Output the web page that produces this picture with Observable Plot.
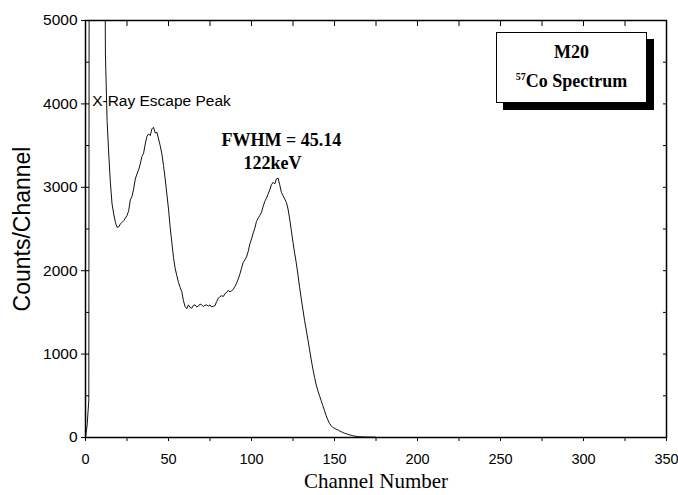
<!DOCTYPE html>
<html>
<head>
<meta charset="utf-8">
<script src="https://cdn.jsdelivr.net/npm/d3@7"></script>
<script src="https://cdn.jsdelivr.net/npm/@observablehq/plot@0.6"></script>
<style>
  html, body { margin: 0; padding: 0; background: #fff; }
  #wrap { position: relative; width: 678px; height: 495px; }
  #legend {
    position: absolute; left: 496px; top: 32px; width: 149px; height: 69px;
    border: 1px solid #000; background: #fff; box-shadow: 7px 7px 0 #000;
    font-family: "Liberation Serif", "Times New Roman", serif; font-weight: bold;
    text-align: center; color: #000;
  }
  #legend .l1 { position: absolute; left: 0; right: 0; top: 9px; font-size: 18px; line-height: 20px; }
  #legend .l2 { position: absolute; left: 0; right: 0; top: 37px; font-size: 18px; line-height: 22px; }
  #legend sup { font-size: 10px; vertical-align: 7px; line-height: 0; }
</style>
</head>
<body>
<div id="wrap"></div>
<script>
// Spectrum: counts per channel, channel = index (0, 1, 2, ...)
const counts = [
  0, 150, 450, 28000, 60000, 70000, 55000, 40000, 25000, 15000,
  11000, 9000, 4600, 3800, 3400, 3050, 2800, 2680, 2580, 2520,
  2525, 2560, 2580, 2600, 2630, 2660, 2720, 2850, 2890, 2980,
  3100, 3160, 3210, 3280, 3370, 3410, 3520, 3610, 3640, 3620,
  3700, 3720, 3650, 3660, 3580, 3500, 3400, 3260, 3100, 2920,
  2740, 2520, 2340, 2160, 2030, 1940, 1860, 1800, 1750, 1640,
  1570, 1545, 1590, 1560, 1550, 1585, 1590, 1565, 1575, 1600,
  1590, 1570, 1585, 1590, 1575, 1590, 1565, 1575, 1580, 1630,
  1670, 1690, 1700, 1690, 1725, 1740, 1765, 1745, 1760, 1775,
  1810, 1850, 1900, 1960, 2030, 2100, 2130, 2165, 2230, 2320,
  2380, 2450, 2510, 2590, 2630, 2660, 2700, 2770, 2830, 2870,
  2920, 2970, 3030, 3060, 3040, 3100, 3110, 3030, 2940, 2900,
  2860, 2820, 2740, 2620, 2480, 2340, 2210, 2090, 1950, 1800,
  1660, 1530, 1400, 1290, 1170, 1050, 930, 820, 720, 630,
  560, 500, 440, 380, 320, 260, 210, 170, 140, 120,
  110, 100, 92, 80, 70, 60, 52, 45, 38, 32,
  27, 22, 18, 14, 12, 10, 9, 8, 7, 6,
  6, 5, 5, 4, 4, 4
];

const xTickLabels = [0, 50, 100, 150, 200, 250, 300, 350];
const xAllTicks = [0, 25, 50, 75, 100, 125, 150, 175, 200, 225, 250, 275, 300, 325, 350];
const yTickLabels = [0, 1000, 2000, 3000, 4000, 5000];
const yAllTicks = [0, 500, 1000, 1500, 2000, 2500, 3000, 3500, 4000, 4500, 5000];

const annotations = [
  {channel: 4, count: 4040, text: "X-Ray Escape Peak"}
];
const peakLabels = [
  {channel: 118, count: 3561, text: "FWHM = 45.14"},
  {channel: 112.7, count: 3285, text: "122keV"}
];

const data = counts.map((c, i) => ({channel: i, count: c}));

const sans = "Liberation Sans, Arial, Helvetica, sans-serif";
const serif = "Liberation Serif, Times New Roman, serif";

const chart = Plot.plot({
  width: 678,
  height: 495,
  marginLeft: 85,
  marginRight: 12,
  marginTop: 20,
  marginBottom: 58,
  style: {fontFamily: sans, color: "#000", background: "#fff"},
  x: {domain: [0, 350]},
  y: {domain: [0, 5000]},
  marks: [
    Plot.line(data, {x: "channel", y: "count", stroke: "#111", strokeWidth: 1, clip: true}),
    Plot.frame({stroke: "#000", strokeWidth: 1.5}),
    // bottom axis: labels + outward ticks
    Plot.axisX(xTickLabels, {anchor: "bottom", tickSize: 4, tickPadding: 12, fontSize: 14.5, label: null, tickFormat: d => String(d)}),
    Plot.axisX(xAllTicks, {anchor: "bottom", tickSize: 4, text: null, label: null}),
    // top axis: inward ticks
    Plot.axisX(xAllTicks, {anchor: "top", tickSize: -5, text: null, label: null}),
    // left axis: labels + outward major ticks
    Plot.axisY(yTickLabels, {anchor: "left", tickSize: 4, tickPadding: 4, fontSize: 15.5, label: null, tickFormat: d => String(d)}),
    Plot.axisY(yAllTicks, {anchor: "left", tickSize: -4, text: null, label: null}),
    // right axis: inward ticks
    Plot.axisY(yAllTicks, {anchor: "right", tickSize: -4, text: null, label: null}),
    // axis titles
    Plot.text(["Channel Number"], {frameAnchor: "bottom", lineAnchor: "middle", textAnchor: "middle", dy: 44, fontFamily: serif, fontSize: 21, fill: "#000"}),
    Plot.text(["Counts/Channel"], {frameAnchor: "left", lineAnchor: "middle", textAnchor: "middle", rotate: -90, dx: -63, fontFamily: sans, fontSize: 23, fill: "#000"}),
    // annotations
    Plot.text(annotations, {x: "channel", y: "count", text: "text", textAnchor: "start", fontSize: 15.5, fontFamily: sans, fill: "#000"}),
    Plot.text(peakLabels, {x: "channel", y: "count", text: "text", fontSize: 18, fontWeight: "bold", fontFamily: serif, fill: "#000"})
  ]
});

const wrap = document.getElementById("wrap");
wrap.appendChild(chart);
const legend = document.createElement("div");
legend.id = "legend";
legend.innerHTML = '<div class="l1">M20</div><div class="l2"><sup>57</sup>Co Spectrum</div>';
wrap.appendChild(legend);
</script>
</body>
</html>
